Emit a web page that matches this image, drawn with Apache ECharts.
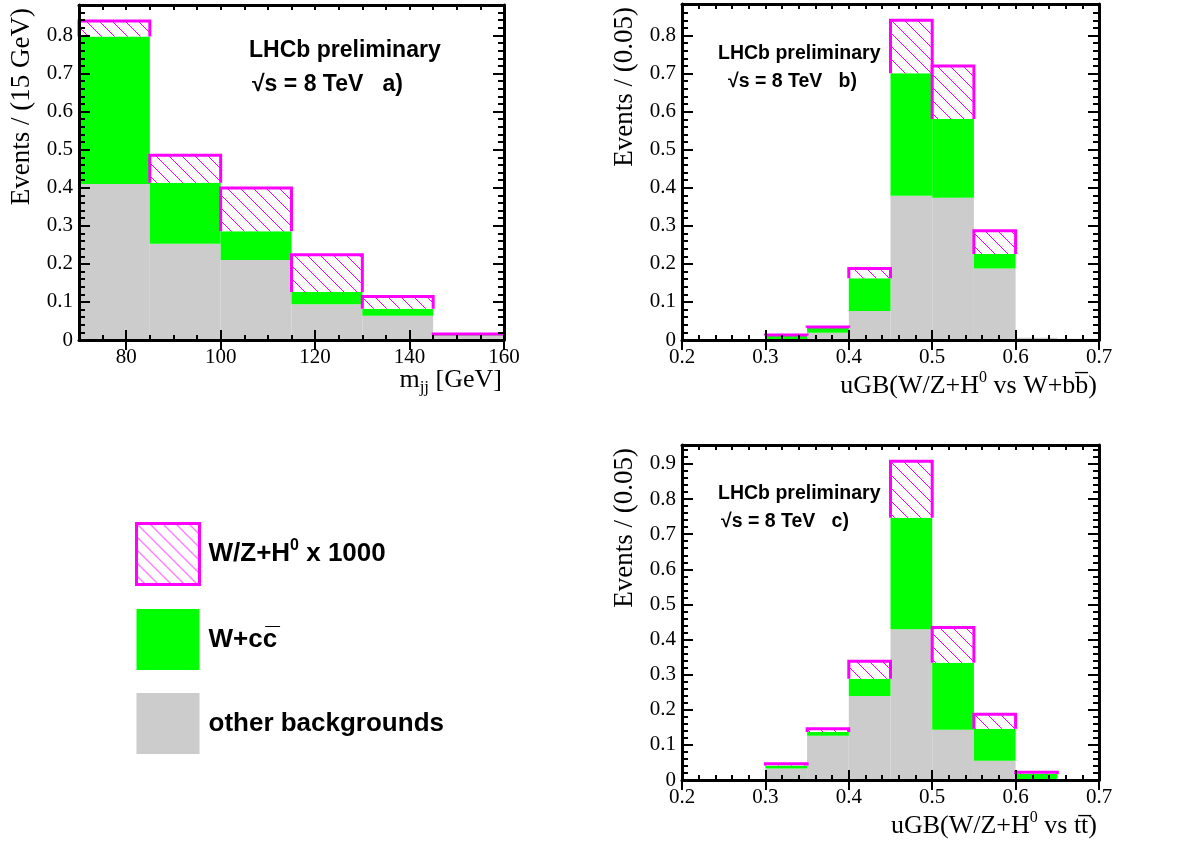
<!DOCTYPE html>
<html><head><meta charset="utf-8">
<script src="https://cdn.jsdelivr.net/npm/echarts@6/dist/echarts.min.js"></script>
<style>html,body{margin:0;padding:0;background:#fff}#c{width:1191px;height:849px}</style>
</head><body><div id="c"></div>
<script>
// ---------------- data ----------------
const seriesNames = ['W/Z+H0 x 1000', 'W+cc', 'other backgrounds'];

// panel a) m_jj, 15 GeV bins
const binLoA = [70, 85, 100, 115, 130, 145];
const binWidthA = 15;
const otherA = [0.410, 0.253, 0.210, 0.094, 0.064, 0.012];
const wccA   = [0.387, 0.160, 0.076, 0.032, 0.018, 0.001];
const sigA   = [0.041, 0.072, 0.113, 0.098, 0.032, 0.003];

// panels b) and c) uGB, 0.05 bins
const binLoBC = [0.20, 0.25, 0.30, 0.35, 0.40, 0.45, 0.50, 0.55, 0.60, 0.65];
const binWidthBC = 0.05;
const otherB = [0, 0, 0.002, 0.019, 0.076, 0.379, 0.374, 0.188, 0.006, 0.003];
const wccB   = [0, 0, 0.010, 0.013, 0.086, 0.322, 0.207, 0.038, 0, 0];
const sigB   = [0, 0, 0.001, 0.002, 0.026, 0.139, 0.139, 0.061, 0, 0];

const otherC = [0, 0, 0.033, 0.126, 0.239, 0.429, 0.143, 0.055, 0.002, 0];
const wccC   = [0, 0, 0.008, 0.011, 0.049, 0.318, 0.191, 0.091, 0.015, 0];
const sigC   = [0, 0, 0.005, 0.009, 0.050, 0.161, 0.100, 0.041, 0.005, 0];

// tick labels
const xTicksA  = [80, 100, 120, 140, 160];
const xTicksBC = [0.2, 0.3, 0.4, 0.5, 0.6, 0.7];
const yTicksAB = [0, 0.1, 0.2, 0.3, 0.4, 0.5, 0.6, 0.7, 0.8];
const yTicksC  = [0, 0.1, 0.2, 0.3, 0.4, 0.5, 0.6, 0.7, 0.8, 0.9];

// ---------------- style ----------------
const SERIF = '"Liberation Serif", "Times New Roman", serif';
const SANS = '"Liberation Sans", Arial, Helvetica, sans-serif';
const GREEN = '#00ff00', GRAY = '#cccccc', MAG = '#ff00ff';

function makeHatch() {
  const s = 13;
  const c = document.createElement('canvas');
  c.width = s; c.height = s;
  const g = c.getContext('2d');
  g.fillStyle = '#ffffff'; g.fillRect(0, 0, s, s);
  g.strokeStyle = MAG; g.lineWidth = 1;
  g.beginPath();
  for (const k of [-s, 0, s]) { g.moveTo(k, 0); g.lineTo(k + s, s); }
  g.stroke();
  return { type: 'pattern', image: c, repeat: 'repeat' };
}
const HATCH = makeHatch();

// ---------------- axes ----------------
const xAxes = [], yAxes = [];
const tickLine = { color: '#000', width: 2 };
const frameLine = { show: true, onZero: false, lineStyle: { color: '#000', width: 3 } };

function addX(gi, min, max, minorStep, majors, fmt, name, nameStyle, nameGap) {
  const base = { type: 'value', gridIndex: gi, min, max, z: 5, splitLine: { show: false }, nameMoveOverlap: false };
  const idx = xAxes.length;
  xAxes.push(Object.assign({}, base, {
    position: 'bottom', interval: minorStep,
    axisLine: frameLine,
    axisTick: { show: true, inside: true, length: 5, lineStyle: tickLine },
    axisLabel: { show: true, customValues: majors, formatter: fmt, margin: 7, color: '#000', fontFamily: SERIF, fontSize: 21 },
    name, nameLocation: 'end', nameGap: nameGap, nameTextStyle: nameStyle
  }));
  xAxes.push(Object.assign({}, base, {
    position: 'bottom', axisLine: { show: false },
    axisTick: { show: true, inside: true, length: 10, customValues: majors, lineStyle: tickLine },
    axisLabel: { show: false }
  }));
  xAxes.push(Object.assign({}, base, {
    position: 'top', interval: minorStep, axisLine: frameLine,
    axisTick: { show: true, inside: true, length: 5, lineStyle: tickLine },
    axisLabel: { show: false }
  }));
  xAxes.push(Object.assign({}, base, {
    position: 'top', axisLine: { show: false },
    axisTick: { show: true, inside: true, length: 10, customValues: majors, lineStyle: tickLine },
    axisLabel: { show: false }
  }));
  return idx;
}

function addY(gi, min, max, minorStep, majors, name) {
  const base = { type: 'value', gridIndex: gi, min, max, z: 5, splitLine: { show: false }, nameMoveOverlap: false };
  const idx = yAxes.length;
  yAxes.push(Object.assign({}, base, {
    position: 'left', interval: minorStep,
    axisLine: frameLine,
    axisTick: { show: true, inside: true, length: 6, lineStyle: tickLine },
    axisLabel: { show: true, customValues: majors, formatter: v => (v === 0 ? '0' : v.toFixed(1)), margin: 6, color: '#000', fontFamily: SERIF, fontSize: 21 },
    name, nameLocation: 'end', nameRotate: 90, nameGap: -3,
    nameTextStyle: { fontFamily: SERIF, fontSize: 27, color: '#000', align: 'right', verticalAlign: 'bottom', padding: [0, 0, 44, 0] }
  }));
  yAxes.push(Object.assign({}, base, {
    position: 'left', axisLine: { show: false },
    axisTick: { show: true, inside: true, length: 11, customValues: majors, lineStyle: tickLine },
    axisLabel: { show: false }
  }));
  yAxes.push(Object.assign({}, base, {
    position: 'right', interval: minorStep, axisLine: frameLine,
    axisTick: { show: true, inside: true, length: 6, lineStyle: tickLine },
    axisLabel: { show: false }
  }));
  yAxes.push(Object.assign({}, base, {
    position: 'right', axisLine: { show: false },
    axisTick: { show: true, inside: true, length: 11, customValues: majors, lineStyle: tickLine },
    axisLabel: { show: false }
  }));
  return idx;
}

const richTitle = {
  m: { fontFamily: SERIF, fontSize: 26, color: '#000', lineHeight: 32, verticalAlign: 'middle' },
  sup: { fontFamily: SERIF, fontSize: 16, color: '#000', lineHeight: 16, verticalAlign: 'top' },
  sub: { fontFamily: SERIF, fontSize: 17, color: '#000', lineHeight: 14, verticalAlign: 'bottom' }
};
function xNameStyle(padTop) {
  return { fontFamily: SERIF, fontSize: 26, color: '#000', align: 'right', verticalAlign: 'top', padding: [padTop, 0, 0, 0], rich: richTitle };
}

const xa = addX(0, 70, 160, 5, xTicksA, v => String(v), '{m|m}{sub|jj}{m| [GeV]}', xNameStyle(24), -2);
const ya = addY(0, 0, 0.88, 0.02, yTicksAB, 'Events / (15 GeV)');
const xb = addX(1, 0.2, 0.7, 0.02, xTicksBC, v => v.toFixed(1), '{m|uGB(W/Z+H}{sup|0}{m| vs W+bb\u0305)}', xNameStyle(30), -2);
const yb = addY(1, 0, 0.883, 0.02, yTicksAB, 'Events / (0.05)');
const xc = addX(2, 0.2, 0.7, 0.02, xTicksBC, v => v.toFixed(1), '{m|uGB(W/Z+H}{sup|0}{m| vs tt\u0305)}', xNameStyle(30), -2);
const yc = addY(2, 0, 0.954, 0.02, yTicksC, 'Events / (0.05)');

// ---------------- series ----------------
function layer(lo, w, bases, vals) {
  return lo.map((x, i) => [x, x + w, bases[i], bases[i] + vals[i]]);
}
function filledRect(params, api) {
  const b = api.value(2), t = api.value(3);
  if (!(t > b)) return null;
  const p0 = api.coord([api.value(0), t]);
  const p1 = api.coord([api.value(1), b]);
  return { type: 'rect', shape: { x: p0[0], y: p0[1], width: p1[0] - p0[0], height: p1[1] - p0[1] }, style: api.style() };
}
function hatchRect(params, api) {
  const b = api.value(2), t = api.value(3);
  if (!(t > b)) return null;
  const p0 = api.coord([api.value(0), t]);
  const p1 = api.coord([api.value(1), b]);
  return {
    type: 'group', children: [
      { type: 'rect', shape: { x: p0[0], y: p0[1], width: p1[0] - p0[0], height: p1[1] - p0[1] }, style: { fill: HATCH } },
      { type: 'polyline', shape: { points: [[p0[0], p1[1]], [p0[0], p0[1]], [p1[0], p0[1]], [p1[0], p1[1]]] }, style: { fill: null, stroke: MAG, lineWidth: 3 } }
    ]
  };
}
const series = [];
function addPanel(xi, yi, lo, w, other, wcc, sig) {
  const zeros = lo.map(() => 0);
  const top1 = other.map((v, i) => v + wcc[i]);
  const common = { type: 'custom', xAxisIndex: xi, yAxisIndex: yi, encode: { x: [0, 1], y: [2, 3] }, animation: false, silent: true };
  series.push(Object.assign({}, common, { name: seriesNames[2], itemStyle: { color: GRAY }, renderItem: filledRect, data: layer(lo, w, zeros, other), z: 2 }));
  series.push(Object.assign({}, common, { name: seriesNames[1], itemStyle: { color: GREEN }, renderItem: filledRect, data: layer(lo, w, other, wcc), z: 2 }));
  series.push(Object.assign({}, common, { name: seriesNames[0], itemStyle: { color: HATCH, borderColor: MAG, borderWidth: 3 }, renderItem: hatchRect, data: layer(lo, w, top1, sig), z: 3 }));
}
addPanel(xa, ya, binLoA, binWidthA, otherA, wccA, sigA);
addPanel(xb, yb, binLoBC, binWidthBC, otherB, wccB, sigB);
addPanel(xc, yc, binLoBC, binWidthBC, otherC, wccC, sigC);

// ---------------- annotations ----------------
function label(x, y, text, size) {
  return { type: 'text', x, y, z: 10, style: { text, fill: '#000', font: 'bold ' + size + 'px ' + SANS, verticalAlign: 'middle', align: 'left' } };
}
const graphics = [
  label(249, 51, 'LHCb preliminary', 23),
  label(252, 85, '\u221As = 8 TeV   a)', 23),
  label(718, 54, 'LHCb preliminary', 19.5),
  label(728, 82, '\u221As = 8 TeV   b)', 19.5),
  label(718, 494, 'LHCb preliminary', 19.5),
  label(721, 522, '\u221As = 8 TeV   c)', 19.5)
];

const legendLabels = {
  'W/Z+H0 x 1000': '{t|W/Z+H}{s|0}{t| x 1000}',
  'W+cc': '{t|W+cc\u0305}',
  'other backgrounds': '{t|other backgrounds}'
};

const chart = echarts.init(document.getElementById('c'), null, { renderer: 'canvas' });
chart.setOption({
  animation: false,
  backgroundColor: '#ffffff',
  grid: [
    { left: 79, top: 5, width: 425, height: 335, outerBoundsMode: 'none', containLabel: false },
    { left: 682, top: 4, width: 417, height: 336, outerBoundsMode: 'none', containLabel: false },
    { left: 682, top: 445, width: 417, height: 335, outerBoundsMode: 'none', containLabel: false }
  ],
  xAxis: xAxes,
  yAxis: yAxes,
  series,
  graphic: graphics,
  legend: {
    orient: 'vertical', left: 135, top: 522, padding: 0,
    itemWidth: 63, itemHeight: 61, itemGap: 23, icon: 'rect',
    selectedMode: false,
    data: [
      { name: seriesNames[0], itemStyle: { color: HATCH, borderColor: MAG, borderWidth: 3 } },
      { name: seriesNames[1], itemStyle: { color: GREEN, borderWidth: 0 } },
      { name: seriesNames[2], itemStyle: { color: GRAY, borderWidth: 0 } }
    ],
    formatter: n => legendLabels[n],
    textStyle: {
      color: '#000', fontFamily: SANS, fontWeight: 'bold', fontSize: 26, padding: [0, 0, 0, 4],
      rich: {
        t: { color: '#000', fontFamily: SANS, fontWeight: 'bold', fontSize: 26, lineHeight: 32, verticalAlign: 'middle' },
        s: { color: '#000', fontFamily: SANS, fontWeight: 'bold', fontSize: 16, lineHeight: 18, verticalAlign: 'top' }
      }
    }
  }
});
</script>
</body></html>
